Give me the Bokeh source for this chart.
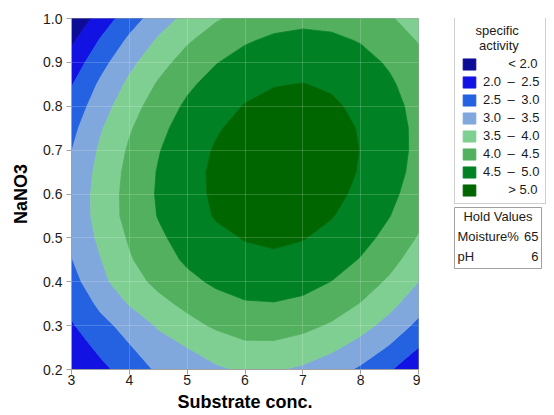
from bokeh.plotting import figure
from bokeh.plotting.contour import contour_data
from bokeh.layouts import row
from bokeh.models import (Range1d, ColumnDataSource, Legend, LegendItem, Label,
                          BoxAnnotation, NumeralTickFormatter)
from bokeh.embed import file_html
from bokeh.resources import INLINE
import numpy as np

# ---- data -----------------------------------------------------------------
# grid of estimated "specific activity" values
x_vals = [3.0, 3.5, 4.0, 4.5, 5.0, 5.5, 6.0, 6.5, 7.0, 7.5, 8.0, 8.5, 9.0]
y_vals = [0.20, 0.25, 0.30, 0.35, 0.40, 0.45, 0.50, 0.55, 0.60,
          0.65, 0.70, 0.75, 0.80, 0.85, 0.90, 0.95, 1.00]
z_rows = [
    [1.97, 2.36, 2.74, 3.07, 3.28, 3.43, 3.56, 3.54, 3.42, 3.21, 2.92, 2.55, 2.09],
    [2.20, 2.62, 2.96, 3.28, 3.50, 3.72, 3.90, 3.90, 3.79, 3.59, 3.31, 2.95, 2.50],
    [2.45, 2.85, 3.17, 3.55, 3.84, 4.07, 4.20, 4.21, 4.12, 3.94, 3.67, 3.32, 2.88],
    [2.63, 3.10, 3.53, 3.86, 4.12, 4.33, 4.46, 4.48, 4.41, 4.24, 3.98, 3.64, 3.21],
    [2.81, 3.37, 3.80, 4.12, 4.38, 4.58, 4.70, 4.73, 4.65, 4.49, 4.25, 3.92, 3.50],
    [2.98, 3.48, 3.95, 4.30, 4.57, 4.78, 4.90, 4.93, 4.86, 4.71, 4.47, 4.16, 3.75],
    [3.07, 3.60, 4.05, 4.41, 4.70, 4.91, 5.02, 5.07, 5.02, 4.88, 4.66, 4.35, 3.96],
    [3.12, 3.69, 4.15, 4.52, 4.82, 5.03, 5.15, 5.19, 5.15, 5.02, 4.81, 4.51, 4.13],
    [3.13, 3.69, 4.16, 4.55, 4.85, 5.07, 5.21, 5.26, 5.23, 5.11, 4.91, 4.62, 4.26],
    [3.08, 3.65, 4.13, 4.53, 4.85, 5.08, 5.22, 5.29, 5.27, 5.16, 4.97, 4.70, 4.34],
    [2.99, 3.57, 4.06, 4.47, 4.80, 5.04, 5.20, 5.27, 5.26, 5.17, 4.99, 4.73, 4.38],
    [2.86, 3.45, 3.95, 4.37, 4.71, 4.96, 5.13, 5.22, 5.22, 5.14, 4.97, 4.72, 4.38],
    [2.68, 3.28, 3.80, 4.23, 4.58, 4.85, 5.02, 5.12, 5.13, 5.06, 4.91, 4.67, 4.34],
    [2.47, 3.08, 3.60, 4.05, 4.41, 4.68, 4.88, 4.98, 5.01, 4.95, 4.80, 4.57, 4.26],
    [2.21, 2.83, 3.37, 3.82, 4.20, 4.48, 4.68, 4.80, 4.84, 4.79, 4.66, 4.44, 4.14],
    [1.91, 2.54, 3.09, 3.56, 3.94, 4.24, 4.45, 4.58, 4.63, 4.59, 4.47, 4.26, 3.97],
    [1.57, 2.21, 2.77, 3.25, 3.64, 3.95, 4.18, 4.32, 4.38, 4.35, 4.24, 4.05, 3.77],
]
level_edges = [0.0, 2.0, 2.5, 3.0, 3.5, 4.0, 4.5, 5.0, 10.0]
band_labels = ["< 2.0", "2.0 \u2013 2.5", "2.5 \u2013 3.0", "3.0 \u2013 3.5",
               "3.5 \u2013 4.0", "4.0 \u2013 4.5", "4.5 \u2013 5.0", "> 5.0"]
x_ticks = [3, 4, 5, 6, 7, 8, 9]
y_ticks = [0.2, 0.3, 0.4, 0.5, 0.6, 0.7, 0.8, 0.9, 1.0]
legend_title_lines = ["specific", "activity"]
hold_title = "Hold Values"
hold_names = ["Moisture%", "pH"]
hold_values = ["65", "6"]

# ---- style ----------------------------------------------------------------
band_colors = ["#0c0c96", "#1212e2", "#2462e2", "#80a8dc",
               "#80cf92", "#52b05e", "#008224", "#006600"]
FONT = "Liberation Sans"
GREY = "#a0a0a0"
TXT = "#1a1a1a"
FRAME_TOP, FRAME_BOTTOM = 18, 369      # page pixels of the plotting frame
FS, NB = "\u2007", "\u00a0"            # figure space, no-break space


def legend_text(lbl):
    # pad so the numbers line up like the original legend
    if lbl.startswith("<") or lbl.startswith(">"):
        return FS * 3 + NB + lbl.replace(" ", NB)
    return lbl.replace(" \u2013 ", "\u2002\u2013\u2002")


def up(page_y):
    """screen units of an annotation: pixels above the frame's bottom edge"""
    return FRAME_BOTTOM - page_y


# ---- main contour plot ------------------------------------------------------
p = figure(width=420, height=415, x_range=Range1d(3, 9), y_range=Range1d(0.2, 1.0),
           output_backend="svg", toolbar_location=None,
           min_border_left=71, min_border_right=2, min_border_top=FRAME_TOP,
           min_border_bottom=415 - FRAME_BOTTOM)
p.background_fill_color = "white"
p.border_fill_color = "white"
p.outline_line_color = GREY

cd = contour_data(x=np.array(x_vals), y=np.array(y_vals), z=np.array(z_rows),
                  levels=level_edges, want_line=False)
fd = cd.fill_data
src = ColumnDataSource(dict(xs=fd.xs, ys=fd.ys, color=band_colors,
                            label=band_labels))
r = p.multi_polygons(xs="xs", ys="ys", fill_color="color", line_color="color",
                     line_width=0.8, source=src)

# grid drawn faintly on top, as in the original
p.xgrid.ticker = x_ticks
p.ygrid.ticker = y_ticks
p.grid.grid_line_color = "white"
p.grid.grid_line_alpha = 0.18
p.grid.level = "guide"

for ax in (p.xaxis, p.yaxis):
    ax.axis_line_color = GREY
    ax.major_tick_line_color = GREY
    ax.major_tick_out = 5
    ax.major_tick_in = 0
    ax.minor_tick_line_color = None
    ax.major_label_text_font = FONT
    ax.major_label_text_font_size = "14px"
    ax.major_label_text_color = TXT
    ax.axis_label_text_font = FONT
    ax.axis_label_text_font_size = "18px"
    ax.axis_label_text_font_style = "bold"
    ax.axis_label_text_color = "black"

p.xaxis.ticker = x_ticks
p.yaxis.ticker = y_ticks
p.yaxis.formatter = NumeralTickFormatter(format="0.0")
p.xaxis.axis_label = "Substrate conc."
p.yaxis.axis_label = "NaNO3"
p.xaxis.major_label_standoff = 0
p.yaxis.major_label_standoff = 4
p.xaxis.axis_label_standoff = 4
p.yaxis.axis_label_standoff = 9

# ---- side panel with the legend and the hold values ------------------------
side = figure(width=130, height=415, x_range=Range1d(0, 1), y_range=Range1d(0, 1),
              x_axis_type=None, y_axis_type=None, output_backend="svg",
              toolbar_location=None, min_border_left=0, min_border_right=0,
              min_border_top=FRAME_TOP, min_border_bottom=415 - FRAME_BOTTOM)
side.outline_line_color = None
side.background_fill_color = "white"
side.border_fill_color = "white"
side.grid.visible = False

# the same contour bands, kept outside this panel's view: used only by the legend
key = side.multi_polygons(xs="xs", ys="ys", fill_color="color", line_color="color",
                          line_width=0.8, source=src)
items = [LegendItem(label=legend_text(band_labels[i]), renderers=[key], index=i)
         for i in range(len(band_labels))]
# centre the two title lines inside the legend box
title = (FS * 2 + legend_title_lines[0] + "\n"
         + FS * 2 + NB + legend_title_lines[1])
legend = Legend(items=items, location=(34, up(204)), title=title,
                title_text_font=FONT, title_text_font_size="13px",
                title_text_font_style="normal", title_text_color=TXT,
                title_standoff=3,
                label_text_font=FONT, label_text_font_size="13px",
                label_text_color=TXT,
                glyph_width=16, glyph_height=14, label_height=15, spacing=3,
                label_standoff=6, padding=6, margin=0,
                border_line_color=GREY, border_line_width=1,
                background_fill_color="white", background_fill_alpha=1.0)
side.add_layout(legend)

box = BoxAnnotation(left=34, right=121, top=up(207), bottom=up(268),
                    left_units="screen", right_units="screen",
                    top_units="screen", bottom_units="screen",
                    fill_color="white", fill_alpha=1.0,
                    line_color=GREY, line_width=1, line_alpha=1.0)
side.add_layout(box)

label_style = dict(x_units="screen", y_units="screen", text_font=FONT,
                   text_font_size="13px", text_color=TXT, text_baseline="middle")
side.add_layout(Label(x=77.5, y=up(216), text=hold_title, text_align="center", **label_style))
side.add_layout(Label(x=37, y=up(236), text=hold_names[0], text_align="left", **label_style))
side.add_layout(Label(x=118, y=up(236), text=hold_values[0], text_align="right", **label_style))
side.add_layout(Label(x=37, y=up(256), text=hold_names[1], text_align="left", **label_style))
side.add_layout(Label(x=118, y=up(256), text=hold_values[1], text_align="right", **label_style))

layout = row(p, side)
open("out.html", "w").write(file_html(layout, INLINE))
